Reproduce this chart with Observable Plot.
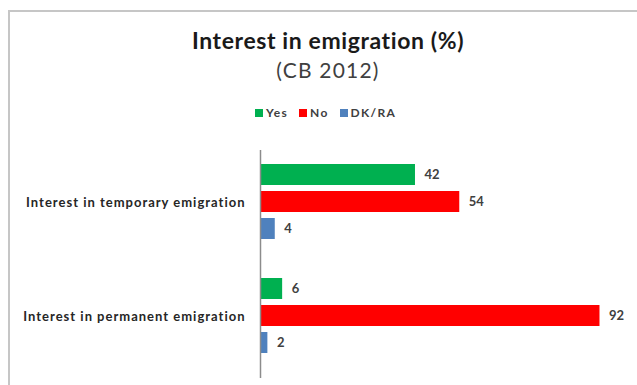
<!DOCTYPE html>
<html>
<head>
<meta charset="utf-8">
<script src="https://cdn.jsdelivr.net/npm/d3@7"></script>
<script src="https://cdn.jsdelivr.net/npm/@observablehq/plot@0.6"></script>
<style>
  html, body { margin: 0; padding: 0; background: #fff; }
  #wrap { position: relative; width: 637px; height: 385px; overflow: hidden; font-family: Lato, "Open Sans", sans-serif; }
  #frame { position: absolute; left: 8px; top: 10px; right: -4px; bottom: -4px; border-left: 2px solid #c6c6c6; border-top: 2px solid #c6c6c6; }
  #title { position: absolute; left: 0; width: 656px; top: 26px; text-align: center; font-size: 23px; font-weight: bold; color: #1a1a1a; letter-spacing: 0.6px; }
  #subtitle { position: absolute; left: 0; width: 656px; top: 57px; text-align: center; font-size: 21px; color: #404040; letter-spacing: 1.2px; }
  #legend { position: absolute; left: 255px; top: 105px; font-size: 12px; font-weight: bold; color: #404040; display: flex; gap: 11px; letter-spacing: 1.3px; }
  #legend span.sw { display: inline-block; width: 8px; height: 8px; margin-right: 3px; vertical-align: 0px; }
  #chart { position: absolute; left: 0; top: 140px; }
</style>
</head>
<body>
<div id="wrap">
  <div id="frame"></div>
  <div id="title">Interest in emigration (%)</div>
  <div id="subtitle">(CB 2012)</div>
  <div id="legend"></div>
  <div id="chart"></div>
</div>
<script>
const categories = ["Interest in temporary emigration", "Interest in permanent emigration"];
const seriesNames = ["Yes", "No", "DK/RA"];
const seriesColors = ["#00b050", "#ff0000", "#4f81bd"];
const yesValues = [42, 6];
const noValues = [54, 92];
const dkValues = [4, 2];

const data = [];
categories.forEach((c, i) => {
  data.push({category: c, series: "Yes", value: yesValues[i]});
  data.push({category: c, series: "No", value: noValues[i]});
  data.push({category: c, series: "DK/RA", value: dkValues[i]});
});

const legend = document.getElementById("legend");
seriesNames.forEach((s, i) => {
  const d = document.createElement("div");
  d.innerHTML = `<span class="sw" style="background:${seriesColors[i]}"></span>${s}`;
  legend.appendChild(d);
});

const chart = Plot.plot({
  width: 637,
  height: 245,
  marginTop: 5,
  marginBottom: 12,
  marginLeft: 260,
  marginRight: 8,
  style: {fontFamily: "Lato, 'Open Sans', sans-serif", background: "transparent"},
  x: {domain: [0, 100], axis: null},
  y: {domain: seriesNames, axis: null, paddingInner: 0.214, paddingOuter: 0.643},
  fy: {domain: categories, axis: "left", tickSize: 0, tickPadding: 15, label: null, padding: 0},
  color: {domain: seriesNames, range: seriesColors},
  facet: {data: data, y: "category", marginTop: 0, marginBottom: 0},
  marks: [
    Plot.barX(data, {x: "value", y: "series", fill: "series"}),
    Plot.text(data, {x: "value", y: "series", text: d => String(d.value), textAnchor: "start", dx: 9, fill: "#404040", fontWeight: "bold", fontSize: 13}),
    Plot.ruleX([0], {stroke: "#8c8c8c", strokeWidth: 1.5, insetTop: 5, insetBottom: -5})
  ]
});
chart.querySelectorAll("g[aria-label='fy-axis tick label'] text, g[aria-label='fy-axis'] text").forEach(t => {
  t.setAttribute("font-size", "13");
  t.setAttribute("font-weight", "bold");
  t.setAttribute("letter-spacing", "1");
  t.setAttribute("fill", "#262626");
});
document.getElementById("chart").appendChild(chart);
</script>
</body>
</html>
